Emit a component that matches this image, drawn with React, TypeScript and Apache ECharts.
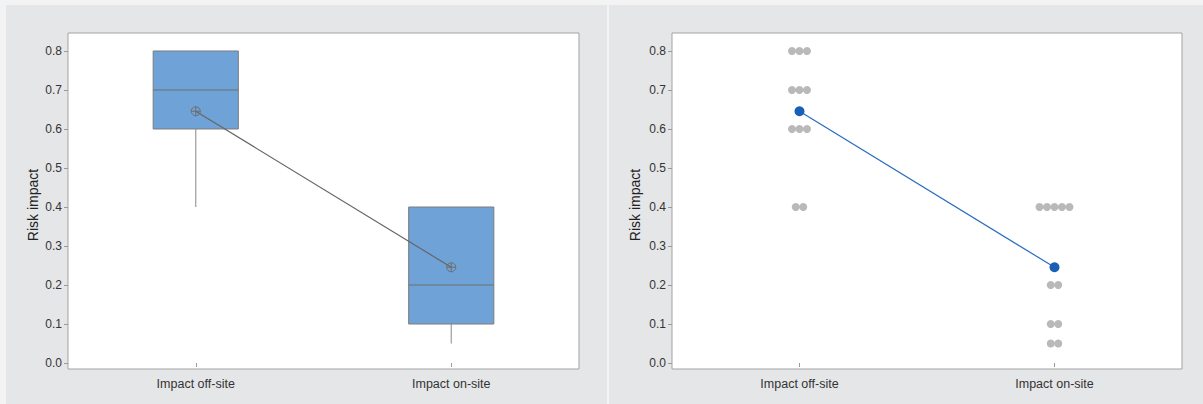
import React, { useEffect, useRef } from "react";
import * as echarts from "echarts";

const categories = ["Impact off-site", "Impact on-site"];
// [min whisker, Q1, median, Q3, max whisker]
const boxStats = [
  [0.4, 0.6, 0.7, 0.8, 0.8],
  [0.05, 0.1, 0.2, 0.4, 0.4],
];
const offSiteValues = [0.8, 0.8, 0.8, 0.7, 0.7, 0.7, 0.6, 0.6, 0.6, 0.4, 0.4];
const onSiteValues = [0.4, 0.4, 0.4, 0.4, 0.4, 0.2, 0.2, 0.1, 0.1, 0.05, 0.05];
const yTicks = [0, 0.1, 0.2, 0.3, 0.4, 0.5, 0.6, 0.7, 0.8];
const yTitle = "Risk impact";

const groups = [offSiteValues, onSiteValues];
const means = groups.map((g) => g.reduce((a, b) => a + b, 0) / g.length);

const FONT = "'Liberation Sans', Arial, sans-serif";
const Y_MIN = -0.01538;
const Y_MAX = 0.84615;

function dotData() {
  const out: any[] = [];
  groups.forEach((vals, ci) => {
    const counts: Record<string, number> = {};
    vals.forEach((v) => (counts[v] = (counts[v] || 0) + 1));
    const seen: Record<string, number> = {};
    vals.forEach((v) => {
      const n = counts[v];
      const i = seen[v] || 0;
      seen[v] = i + 1;
      out.push({ value: [ci, v], symbolOffset: [(i - (n - 1) / 2) * 7.5, 0] });
    });
  });
  return out;
}

function yAxisCfg(gridIndex: number, nameGap: number) {
  return {
    type: "value",
    gridIndex,
    min: Y_MIN,
    max: Y_MAX,
    name: yTitle,
    nameLocation: "middle",
    nameGap,
    nameTextStyle: { fontSize: 14, color: "#222", fontFamily: FONT, padding: [0, 0, 0, -8] },
    axisLine: { show: false },
    splitLine: { show: false },
    axisTick: { show: true, length: 4, customValues: yTicks, lineStyle: { color: "#9a9a9a" } },
    axisLabel: {
      customValues: yTicks,
      formatter: (v: number) => v.toFixed(1),
      fontSize: 12,
      color: "#333",
      fontFamily: FONT,
      margin: 6,
    },
  };
}

function xAxisCfg(gridIndex: number) {
  return {
    type: "category",
    gridIndex,
    data: categories,
    boundaryGap: true,
    axisLine: { show: false },
    axisTick: { show: true, alignWithLabel: true, length: 4, lineStyle: { color: "#9a9a9a" } },
    axisLabel: { fontSize: 12.5, color: "#333", fontFamily: FONT, margin: 8 },
    splitLine: { show: false },
  };
}

export default function App() {
  const ref = useRef<HTMLDivElement>(null);
  useEffect(() => {
    if (!ref.current) return;
    const chart = echarts.init(ref.current, null, { renderer: "svg" });
    const gridCommon = {
      show: true,
      top: 33,
      height: 336,
      backgroundColor: "#ffffff",
      borderColor: "#a3a3a3",
      borderWidth: 1,
    };
    chart.setOption({
      animation: false,
      backgroundColor: "transparent",
      grid: [
        { ...gridCommon, left: 68, width: 511 },
        { ...gridCommon, left: 672, width: 510 },
      ],
      xAxis: [xAxisCfg(0), xAxisCfg(1)],
      yAxis: [yAxisCfg(0, 28), yAxisCfg(1, 30)],
      series: [
        {
          type: "custom",
          xAxisIndex: 0,
          yAxisIndex: 0,
          z: 2,
          data: boxStats.map((s, i) => [i, ...s]),
          renderItem: (params: any, api: any) => {
            const cat = api.value(0);
            const lo = api.coord([cat, api.value(1)]);
            const q1 = api.coord([cat, api.value(2)]);
            const med = api.coord([cat, api.value(3)]);
            const q3 = api.coord([cat, api.value(4)]);
            const hi = api.coord([cat, api.value(5)]);
            const bw = api.size([1, 0])[0] / 3;
            const cx = q1[0];
            const children: any[] = [];
            if (Math.abs(lo[1] - q1[1]) > 0.5)
              children.push({
                type: "line",
                shape: { x1: cx, y1: q1[1], x2: cx, y2: lo[1] },
                style: { stroke: "#9c9c9c", lineWidth: 1.2 },
              });
            if (Math.abs(hi[1] - q3[1]) > 0.5)
              children.push({
                type: "line",
                shape: { x1: cx, y1: q3[1], x2: cx, y2: hi[1] },
                style: { stroke: "#9c9c9c", lineWidth: 1.2 },
              });
            children.push({
              type: "rect",
              shape: { x: cx - bw / 2, y: q3[1], width: bw, height: q1[1] - q3[1] },
              style: { fill: "#6fa2d6", stroke: "#7c7c7c", lineWidth: 1 },
            });
            children.push({
              type: "line",
              shape: { x1: cx - bw / 2, y1: med[1], x2: cx + bw / 2, y2: med[1] },
              style: { stroke: "#707070", lineWidth: 1 },
            });
            return { type: "group", children };
          },
        },
        {
          type: "line",
          xAxisIndex: 0,
          yAxisIndex: 0,
          z: 3,
          data: means,
          symbol: "none",
          lineStyle: { color: "#666666", width: 1.2 },
        },
        {
          type: "custom",
          xAxisIndex: 0,
          yAxisIndex: 0,
          z: 4,
          data: means.map((m, i) => [i, m]),
          renderItem: (params: any, api: any) => {
            const p = api.coord([api.value(0), api.value(1)]);
            const r = 4.5;
            return {
              type: "group",
              children: [
                {
                  type: "circle",
                  shape: { cx: p[0], cy: p[1], r },
                  style: { fill: "rgba(0,0,0,0)", stroke: "#6e6e6e", lineWidth: 1 },
                },
                {
                  type: "line",
                  shape: { x1: p[0] - r, y1: p[1], x2: p[0] + r, y2: p[1] },
                  style: { stroke: "#6e6e6e", lineWidth: 1 },
                },
                {
                  type: "line",
                  shape: { x1: p[0], y1: p[1] - r, x2: p[0], y2: p[1] + r },
                  style: { stroke: "#6e6e6e", lineWidth: 1 },
                },
              ],
            };
          },
        },
        {
          type: "scatter",
          xAxisIndex: 1,
          yAxisIndex: 1,
          z: 2,
          symbol: "circle",
          symbolSize: 8,
          itemStyle: { color: "#a8a8aa" },
          data: dotData(),
        },
        {
          type: "line",
          xAxisIndex: 1,
          yAxisIndex: 1,
          z: 3,
          data: means,
          symbol: "circle",
          symbolSize: 10,
          showSymbol: true,
          itemStyle: { color: "#1a5fb4" },
          lineStyle: { color: "#2a6cc0", width: 1.2 },
        },
      ],
    });
    return () => chart.dispose();
  }, []);

  return (
    <div
      style={{
        position: "fixed",
        left: 0,
        top: 0,
        width: 1203,
        height: 404,
        background: "#f3f3f4",
        overflow: "hidden",
      }}
    >
      <div style={{ position: "absolute", left: 6, top: 5, width: 601, height: 399, background: "#e5e6e8" }} />
      <div style={{ position: "absolute", left: 609, top: 5, width: 594, height: 399, background: "#e5e6e8" }} />
      <div ref={ref} style={{ position: "absolute", left: 0, top: 0, width: 1203, height: 404 }} />
    </div>
  );
}
